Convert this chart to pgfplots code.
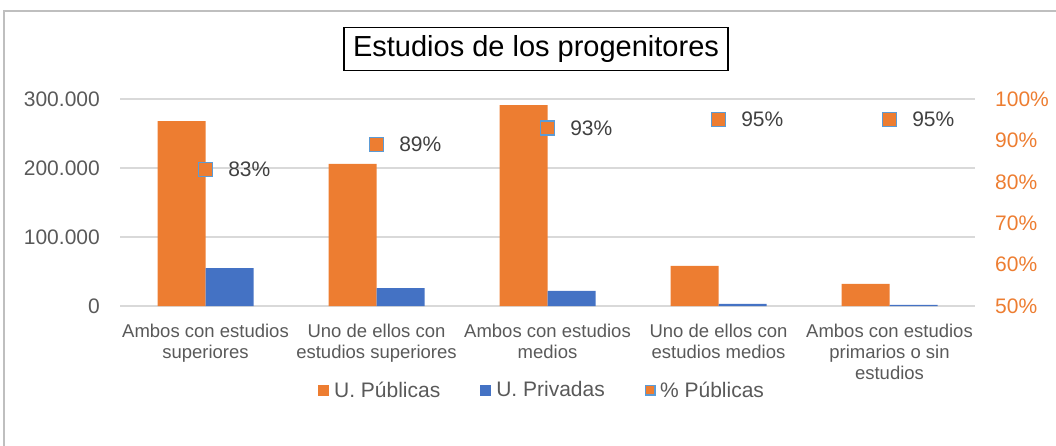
\documentclass[border=0pt]{standalone}
\usepackage{pgfplots}
\usepackage{pgfplotstable}
\pgfplotsset{compat=1.18}
\usepackage{fontspec}
\setmainfont{Liberation Sans}
\definecolor{orangeC}{HTML}{ED7D31}
\definecolor{blueC}{HTML}{4472C4}
\definecolor{lblue}{HTML}{5B9BD5}
\definecolor{gridC}{HTML}{D9D9D9}
\definecolor{txt}{HTML}{595959}
\definecolor{lbl}{HTML}{404040}
\definecolor{frameC}{HTML}{BFBFBF}

\pgfplotstableread{
x pub priv pct
0 268000 55000 83
1 206000 26000 89
2 291000 22000 93
3 58000 3000 95
4 32000 1500 95
}\datatable

\begin{document}
\begin{tikzpicture}
\useasboundingbox (0pt,0pt) rectangle (1056pt,445pt);
\draw[frameC, line width=1.5pt] (4pt,-5pt) -- (4pt,434pt) -- (1065pt,434pt);
\begin{axis}[
  at={(120pt,139pt)}, anchor=south west,
  width=855pt, height=207pt, scale only axis,
  xmin=-0.5, xmax=4.5, ymin=0, ymax=300000,
  ybar=0pt, bar width=48pt,
  axis x line*=bottom, axis y line*=left,
  axis line style={draw=none}, tick style={draw=none},
  ymajorgrids, grid style={gridC, line width=1.4pt},
  xtick={0,1,2,3,4},
  xticklabels={{Ambos con estudios\\superiores},{Uno de ellos con\\estudios superiores},{Ambos con estudios\\medios},{Uno de ellos con\\estudios medios},{Ambos con estudios\\primarios o sin\\estudios}},
  xticklabel style={align=center, font=\fontsize{18.5}{21}\selectfont, text=txt, inner sep=0pt, yshift=-14pt},
  ytick={0,100000,200000,300000},
  yticklabels={0,100.000,200.000,300.000},
  yticklabel style={font=\fontsize{21}{24}\selectfont, text=txt, inner sep=0pt, xshift=-20pt},
  scaled y ticks=false,
  legend columns=3,
  legend style={draw=none, fill=none, at={(0.4936,-0.406)}, anchor=center,
    font=\fontsize{21}{24}\selectfont, text=txt, inner sep=0pt,
    nodes={inner sep=2pt},
    /tikz/every even column/.append style={column sep=38pt}},
  legend cell align=left,
]
\addplot[fill=orangeC, draw=none, forget plot, bar shift=-24pt] table[x=x,y=pub]{\datatable};
\addplot[fill=blueC, draw=none, forget plot, bar shift=24pt] table[x=x,y=priv]{\datatable};
\addlegendimage{legend image code/.code={\fill[orangeC, draw=none] (0pt,-5.5pt) rectangle (11pt,5.5pt);\path[draw=none, fill=none] (0pt,0pt) rectangle (14pt,0.1pt);}}
\addlegendentry{U. Públicas}
\addlegendimage{legend image code/.code={\fill[blueC, draw=none] (0pt,-5.5pt) rectangle (11pt,5.5pt);\path[draw=none, fill=none] (0pt,0pt) rectangle (14pt,0.1pt);}}
\addlegendentry{U. Privadas}
\addlegendimage{legend image code/.code={\draw[fill=orangeC, draw=lblue, line width=1.5pt] (0.75pt,-4.75pt) rectangle (10.25pt,4.75pt);\path[draw=none, fill=none] (0pt,0pt) rectangle (13.25pt,0.1pt);}}
\addlegendentry{\% Públicas}
\end{axis}
\begin{axis}[
  at={(120pt,139pt)}, anchor=south west,
  width=855pt, height=207pt, scale only axis,
  xmin=-0.5, xmax=4.5, ymin=50, ymax=100,
  axis x line=none, axis y line*=right,
  axis line style={draw=none}, tick style={draw=none},
  ytick={50,60,70,80,90,100},
  /pgf/number format/assume math mode=true,
  yticklabel={\pgfmathprintnumber{\tick}\%},
  yticklabel style={font=\fontsize{21}{24}\selectfont, text=orangeC, inner sep=0pt, xshift=20pt},
]
\addplot[only marks, mark=square*, mark size=7pt,
  mark options={fill=orangeC, draw=lblue, line width=1.5pt},
  point meta=y,
  nodes near coords={\pgfmathprintnumber[fixed,precision=0]{\pgfplotspointmeta}\%},
  every node near coord/.append style={anchor=west, xshift=22pt, inner sep=0pt,
    font=\fontsize{21}{24}\selectfont, text=lbl}]
  table[x=x,y=pct]{\datatable};
\end{axis}
\node[draw=black, line width=1.5pt, inner xsep=9pt, minimum height=43pt,
  font=\fontsize{29}{34}\selectfont] at (536pt,396pt) {Estudios de los progenitores};
\end{tikzpicture}
\end{document}
